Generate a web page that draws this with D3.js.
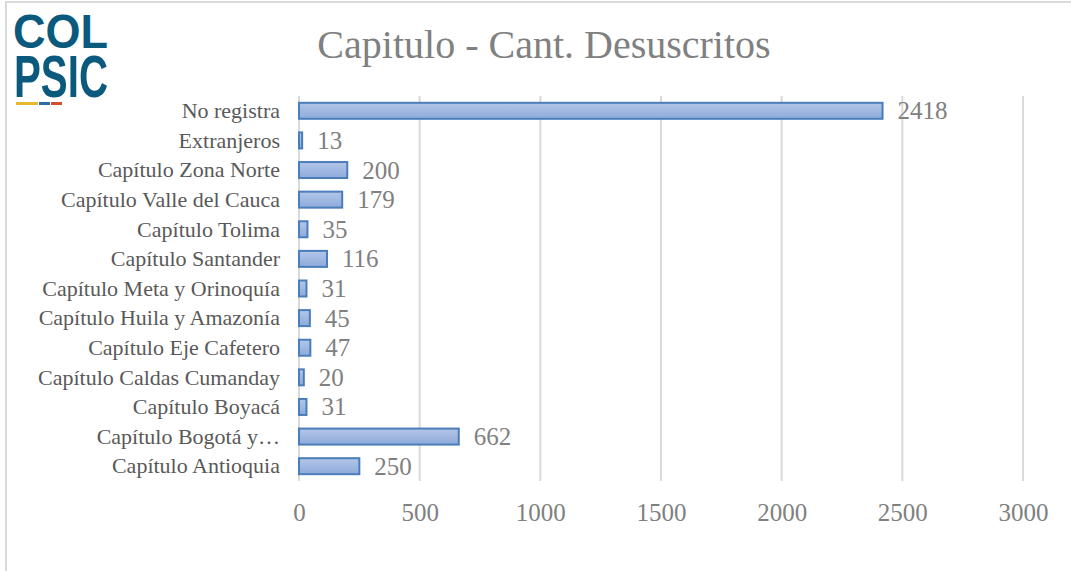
<!DOCTYPE html>
<html><head><meta charset="utf-8">
<script src="https://cdn.jsdelivr.net/npm/d3@7"></script>
<style>body{margin:0;background:#fff}svg{display:block}</style>
</head><body><svg id="c" width="1071" height="571"></svg>
<script>
const categories = ["No registra","Extranjeros","Capítulo Zona Norte","Capítulo Valle del Cauca","Capítulo Tolima","Capítulo Santander","Capítulo Meta y Orinoquía","Capítulo Huila y Amazonía","Capítulo Eje Cafetero","Capítulo Caldas Cumanday","Capítulo Boyacá","Capítulo Bogotá y…","Capítulo Antioquia"];
const values = [2418,13,200,179,35,116,31,45,47,20,31,662,250];
const ticks = [0,500,1000,1500,2000,2500,3000];
const title = "Capitulo - Cant. Desuscritos";

const svg = d3.select("#c");
const font = "'Liberation Serif', serif";
svg.append("rect").attr("x",6).attr("y",2).attr("width",1080).attr("height",600)
  .attr("fill","none").attr("stroke","#d9d9d9").attr("stroke-width",2);

const defs = svg.append("defs");
const g = defs.append("linearGradient").attr("id","bg").attr("x1",0).attr("y1",0).attr("x2",0).attr("y2",1);
g.append("stop").attr("offset","0%").attr("stop-color","#b3c6e7");
g.append("stop").attr("offset","100%").attr("stop-color","#8eaadb");

const x = d3.scaleLinear().domain([0,3000]).range([299,1023]);
const y = d3.scaleBand().domain(categories).range([96,481]).paddingInner(0.46).paddingOuter(0.23);

svg.append("g").selectAll("line").data(ticks).join("line")
  .attr("x1",d=>x(d)).attr("x2",d=>x(d)).attr("y1",96).attr("y2",481)
  .attr("stroke","#d9d9d9").attr("stroke-width",2);

const xa = svg.append("g").attr("transform","translate(0,481)")
  .call(d3.axisBottom(x).tickValues(ticks).tickFormat(d3.format("d")).tickSize(0).tickPadding(0));
xa.select(".domain").remove();
xa.selectAll("text").attr("dy",null).attr("y",40).attr("font-family",font).attr("font-size",25).attr("fill","#808080");

const ya = svg.append("g").attr("transform","translate(280,0)")
  .call(d3.axisLeft(y).tickSize(0).tickPadding(0));
ya.select(".domain").remove();
ya.selectAll("text").attr("font-family",font).attr("font-size",22).attr("fill","#595959").attr("dy","0.33em");

svg.append("g").selectAll("rect").data(categories).join("rect")
  .attr("x",x(0)).attr("y",(d)=>y(d)).attr("height",y.bandwidth())
  .attr("width",(d,i)=>x(values[i])-x(0))
  .attr("fill","url(#bg)").attr("stroke","#4a7ebb").attr("stroke-width",2);

svg.append("g").selectAll("text").data(categories).join("text")
  .attr("x",(d,i)=>x(values[i])+15).attr("y",d=>y(d)+y.bandwidth()/2).attr("dy","0.34em")
  .attr("font-family",font).attr("font-size",25).attr("fill","#808080")
  .text((d,i)=>values[i]);

svg.append("text").attr("x",544).attr("y",58).attr("text-anchor","middle")
  .attr("font-family",font).attr("font-size",40).attr("fill","#808080").text(title);

const logo = svg.append("g");
const lt = logo.append("text")
  .attr("font-family","'Liberation Sans Narrow','Liberation Sans',sans-serif").attr("font-weight","bold")
  .attr("fill","#0b5a7e");
lt.append("tspan").attr("x",13).attr("y",48).attr("textLength",95).attr("lengthAdjust","spacingAndGlyphs")
  .attr("font-size",48).text("COL");
lt.append("tspan").attr("x",14).attr("y",97).attr("textLength",94).attr("lengthAdjust","spacingAndGlyphs")
  .attr("font-size",60).text("PSIC");
logo.append("rect").attr("x",16).attr("y",102).attr("width",22).attr("height",3).attr("fill","#e8b92c");
logo.append("rect").attr("x",39).attr("y",102).attr("width",11).attr("height",3).attr("fill","#2e6da4");
logo.append("rect").attr("x",51).attr("y",102).attr("width",11).attr("height",3).attr("fill","#d0502b");
</script></body></html>
